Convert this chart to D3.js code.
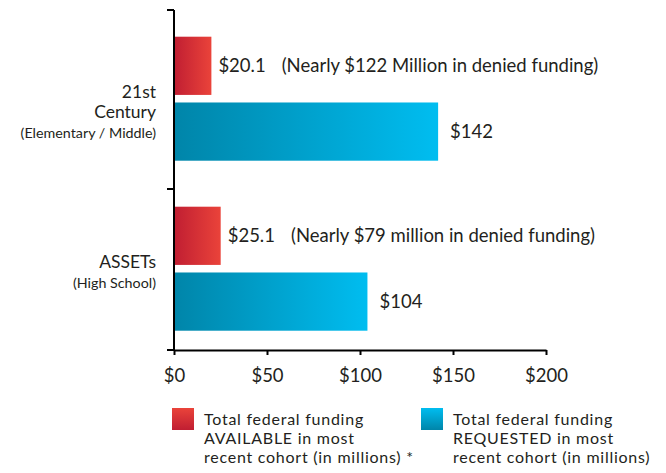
<!DOCTYPE html>
<html>
<head>
<meta charset="utf-8">
<script src="https://cdn.jsdelivr.net/npm/d3@7"></script>
<style>
  body { margin: 0; background: #fff; }
  text { font-family: Lato, "Open Sans", sans-serif; font-weight: 400; fill: #231f20; }
</style>
</head>
<body>
<script>
// data
var categories = ['21st Century', 'ASSETs'];
var categoryLines = [['21st', 'Century', '(Elementary / Middle)'], ['ASSETs', '(High School)']];
var series = ['available', 'requested'];
var available = [20.1, 25.1];
var requested = [142, 104];
var deniedNotes = ['(Nearly $122 Million in denied funding)', '(Nearly $79 million in denied funding)'];
var xTicks = [0, 50, 100, 150, 200];
var legendLines = [
  ['Total federal funding', 'AVAILABLE in most', 'recent cohort (in millions) *'],
  ['Total federal funding', 'REQUESTED in most', 'recent cohort (in millions)']
];

var width = 666, height = 473;

var svg = d3.select('body').append('svg')
  .attr('width', width)
  .attr('height', height);

var defs = svg.append('defs');

function grad(id, c0, c1, vertical) {
  var g = defs.append('linearGradient').attr('id', id)
    .attr('x1', 0).attr('y1', 0)
    .attr('x2', vertical ? 0 : 1).attr('y2', vertical ? 1 : 0);
  g.append('stop').attr('offset', '0%').attr('stop-color', c0);
  g.append('stop').attr('offset', '100%').attr('stop-color', c1);
}
grad('redH', '#c01e32', '#ea433a', false);
grad('blueH', '#0085a9', '#00bdf0', false);
grad('redV', '#ea433a', '#c01e32', true);
grad('blueV', '#00bdf0', '#0085a9', true);
var fills = { available: 'url(#redH)', requested: 'url(#blueH)' };

var x = d3.scaleLinear().domain([0, 200]).range([174, 546]);
var y0 = d3.scaleBand().domain(categories).range([10, 350]);
var y1 = d3.scaleBand().domain(series).range([26.7, 150.7]).paddingInner(0.115);

var rows = categories.map(function (c, i) {
  return { cat: c, lines: categoryLines[i], available: available[i], requested: requested[i], note: deniedNotes[i] };
});

// bars
var groups = svg.selectAll('.grp')
  .data(rows)
  .enter().append('g')
  .attr('class', 'grp')
  .attr('transform', function (d) { return 'translate(0,' + y0(d.cat) + ')'; });

groups.selectAll('rect')
  .data(function (d) { return series.map(function (s) { return { key: s, value: d[s] }; }); })
  .enter().append('rect')
  .attr('x', x(0))
  .attr('y', function (d) { return y1(d.key); })
  .attr('width', function (d) { return x(d.value) - x(0); })
  .attr('height', y1.bandwidth())
  .attr('fill', function (d) { return fills[d.key]; });

// value labels
groups.append('text')
  .attr('x', function (d) { return x(d.available) + 7; })
  .attr('y', y1('available') + y1.bandwidth() / 2 + 6)
  .style('font-size', '18.5px')
  .text(function (d) { return '$' + d.available; })
  .append('tspan')
  .attr('dx', 16)
  .text(function (d) { return d.note; });

groups.append('text')
  .attr('x', function (d) { return x(d.requested) + 12; })
  .attr('y', y1('requested') + y1.bandwidth() / 2 + 6)
  .style('font-size', '18.5px')
  .text(function (d) { return '$' + d.requested; });

// category labels, one text per category with a tspan per line
groups.each(function (d) {
  var cy = y1('available') + (y1('requested') + y1.bandwidth() - y1('available')) / 2;
  var t = d3.select(this).append('text')
    .attr('text-anchor', 'end')
    .attr('y', cy - 1);
  d.lines.forEach(function (line, i) {
    var small = line.charAt(0) === '(';
    t.append('tspan')
      .attr('x', 156)
      .attr('dy', i === 0 ? 0 : 20)
      .style('font-size', small ? '14.3px' : '17.5px')
      .text(line);
  });
});

// y axis
var yAxis = svg.append('g').attr('stroke', '#000').attr('stroke-width', 2);
yAxis.append('line')
  .attr('x1', x(0)).attr('x2', x(0))
  .attr('y1', y0.range()[0]).attr('y2', y0.range()[1]);
yAxis.selectAll('.yt')
  .data([y0.range()[0], y0(categories[1]) + 9, y0.range()[1]])
  .enter().append('line')
  .attr('x1', x(0) - 7).attr('x2', x(0))
  .attr('y1', function (d) { return d; }).attr('y2', function (d) { return d; });

// x axis
var xAxis = svg.append('g')
  .attr('transform', 'translate(0,' + y0.range()[1] + ')')
  .call(d3.axisBottom(x).tickValues(xTicks).tickFormat(function (d) { return '$' + d; })
    .tickSize(5).tickSizeOuter(0).tickPadding(14));
xAxis.select('.domain').attr('stroke', '#000').attr('stroke-width', 2);
xAxis.selectAll('.tick line').attr('stroke', '#000').attr('stroke-width', 2);
xAxis.selectAll('.tick text')
  .style('font-family', 'Lato, sans-serif')
  .style('font-size', '18.5px')
  .attr('fill', '#231f20');

// legend
var legendX = [172, 421];
var legendFills = ['url(#redV)', 'url(#blueV)'];
legendLines.forEach(function (lines, i) {
  var lg = svg.append('g').attr('transform', 'translate(' + legendX[i] + ',408)');
  lg.append('rect').attr('width', 22).attr('height', 22).attr('fill', legendFills[i]);
  var t = lg.append('text').attr('y', 16.5)
    .style('font-size', '16px')
    .style('letter-spacing', '0.75px');
  lines.forEach(function (line, j) {
    t.append('tspan')
      .attr('x', 32)
      .attr('dy', j === 0 ? 0 : 19.2)
      .text(line);
  });
});
</script>
</body>
</html>
